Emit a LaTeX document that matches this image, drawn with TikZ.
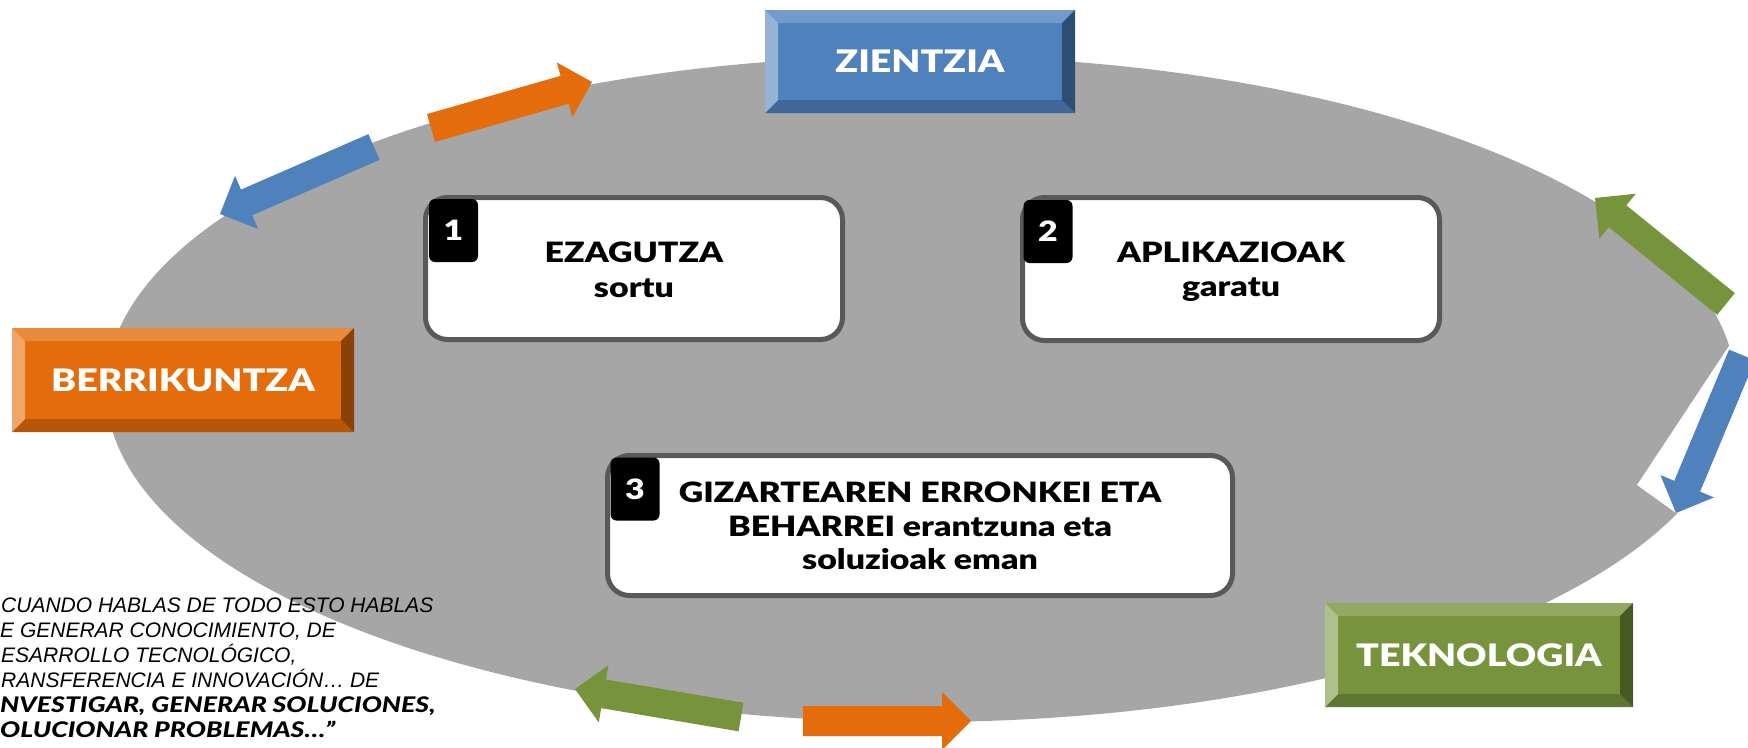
\documentclass[tikz,border=0pt]{standalone}
\usepackage{fontspec}
\setmainfont{Liberation Sans}
\newfontfamily\blackfont{Lato Black}[FakeStretch=1.21]
\newfontfamily\blackitfont{Lato Black Italic}[FakeStretch=1.24]
\usetikzlibrary{calc}
\definecolor{ellgray}{HTML}{A6A6A6}
\definecolor{boxgray}{HTML}{595959}
\definecolor{arrblue}{HTML}{4F81BD}
\definecolor{arrorange}{HTML}{E46C0A}
\definecolor{arrgreen}{HTML}{77933C}
% bevel colours
\definecolor{blumain}{HTML}{4F81BD}
\definecolor{blutop}{HTML}{729ACD}
\definecolor{bluleft}{HTML}{95B3D7}
\definecolor{blubot}{HTML}{3F6797}
\definecolor{bluright}{HTML}{2D4D72}
\definecolor{ormain}{HTML}{E46C0A}
\definecolor{ortop}{HTML}{E98A3C}
\definecolor{orleft}{HTML}{F0A66A}
\definecolor{orbot}{HTML}{B85608}
\definecolor{orright}{HTML}{8A4106}
\definecolor{grmain}{HTML}{77933C}
\definecolor{grtop}{HTML}{93A962}
\definecolor{grleft}{HTML}{AEC08B}
\definecolor{grbot}{HTML}{5F7630}
\definecolor{grright}{HTML}{485A24}
\tikzset{
  bevlabel/.style={font=\blackfont\fontsize{31}{31}\selectfont, text=white, inner sep=0pt},
  whitebox/.style={draw=boxgray, line width=5pt, fill=white, rounded corners=22pt, inner sep=0pt},
  numtab/.style={fill=black, rounded corners=6pt, minimum width=49pt, minimum height=63pt, inner sep=0pt,
    text=white, font=\blackfont\fontsize{28}{28}\selectfont},
  boxtext/.style={font=\blackfont\fontsize{28}{28}\selectfont, anchor=base, inner sep=0pt},
  quoteline/.style={font=\itshape\fontsize{21}{21}\selectfont, anchor=base west, inner sep=0pt},
  quotebold/.style={font=\blackitfont\fontsize{21.5}{21.5}\selectfont, anchor=base west, inner sep=0pt},
}
% block arrow: colour, tail, tip, half shaft, half head, head length
\newcommand\blockarr[6]{%
  \coordinate (ba-h) at ($(#3)!#6!(#2)$);
  \fill[#1] ($(#2)!#4!90:(#3)$) -- ($(ba-h)!#4!90:(#3)$) -- ($(ba-h)!#5!90:(#3)$) -- (#3)
    -- ($(ba-h)!#5!-90:(#3)$) -- ($(ba-h)!#4!-90:(#3)$) -- ($(#2)!#4!-90:(#3)$) -- cycle;}
% bevel box: name, x1, y1, x2, y2, colour prefix, text
\newcommand\bevelbox[7]{%
  \fill[#6main] (#2,#3) rectangle (#4,#5);
  \fill[#6top] (#2,#3) -- (#4,#3) -- (#4-13,#3+13) -- (#2+13,#3+13) -- cycle;
  \fill[#6bot] (#2,#5) -- (#4,#5) -- (#4-13,#5-13) -- (#2+13,#5-13) -- cycle;
  \fill[#6left] (#2,#3) -- (#2+13,#3+13) -- (#2+13,#5-13) -- (#2,#5) -- cycle;
  \fill[#6right] (#4,#3) -- (#4-13,#3+13) -- (#4-13,#5-13) -- (#4,#5) -- cycle;
  \node[bevlabel] (#1) at ({(#2+#4)/2},{(#3+#5)/2}) {#7};}
\begin{document}
\begin{tikzpicture}[x=1pt,y=-1pt]
\useasboundingbox (0,0) rectangle (1748,747);
\fill[white] (0,0) rectangle (1748,747);
\clip (0,0) rectangle (1748,747);
% grey ellipse
\fill[ellgray] (921,389) ellipse [x radius=815, y radius=333];
\fill[white] (1731,343) -- (1637,485) -- (1676,513) -- (1760,513) -- (1760,343) -- cycle;
% arrows
\coordinate (a1t) at (374,147); \coordinate (a1p) at (220,214);
\coordinate (a2t) at (431,128); \coordinate (a2p) at (592,82);
\coordinate (a3t) at (1726,304); \coordinate (a3p) at (1595,198);
\coordinate (a4t) at (1742,355); \coordinate (a4p) at (1676,513);
\coordinate (a5t) at (741,717); \coordinate (a5p) at (575,689);
\coordinate (a6t) at (803,721); \coordinate (a6p) at (971,721);
\blockarr{arrblue}{a1t}{a1p}{14pt}{29pt}{29pt}
\blockarr{arrorange}{a2t}{a2p}{14.5pt}{28.5pt}{28.5pt}
\blockarr{arrgreen}{a3t}{a3p}{14pt}{29pt}{29pt}
\blockarr{arrblue}{a4t}{a4p}{14pt}{29pt}{29pt}
\blockarr{arrgreen}{a5t}{a5p}{14.5pt}{29pt}{29pt}
\blockarr{arrorange}{a6t}{a6p}{15pt}{29pt}{29pt}
% bevel boxes
\bevelbox{zientzia}{765}{10}{1075}{113}{blu}{ZIENTZIA}
\bevelbox{berrikuntza}{12}{328}{354}{432}{or}{BERRIKUNTZA}
\bevelbox{teknologia}{1325}{603}{1633}{707}{gr}{TEKNOLOGIA}
% white boxes
\node[whitebox, minimum width=417pt, minimum height=142pt] (b1) at (634,268.5) {};
\node[whitebox, minimum width=417pt, minimum height=143pt] (b2) at (1231,269) {};
\node[whitebox, minimum width=625pt, minimum height=140pt] (b3) at (920,525.5) {};
\node[numtab] (n1) at (453.5,230.5) {1};
\node[numtab] (n2) at (1048,231.5) {2};
\node[numtab] (n3) at (635,489) {3};
\node[boxtext] (t1a) at (634,262) {EZAGUTZA};
\node[boxtext] (t1b) at (634,297) {sortu};
\node[boxtext] (t2a) at (1231,262) {APLIKAZIOAK};
\node[boxtext] (t2b) at (1231,296) {garatu};
\node[boxtext] (t3a) at (920,502) {GIZARTEAREN ERRONKEI ETA};
\node[boxtext] (t3b) at (920,536) {BEHARREI erantzuna eta};
\node[boxtext] (t3c) at (920,569) {soluzioak eman};
% quote
\node[quoteline] (q1) at (1,612) {CUANDO HABLAS DE TODO ESTO HABLAS};
\node[quoteline] (q2) at (0,637) {E GENERAR CONOCIMIENTO, DE};
\node[quoteline] (q3) at (1,662) {ESARROLLO TECNOLÓGICO,};
\node[quoteline] (q4) at (1,687) {RANSFERENCIA E INNOVACIÓN… DE};
\node[quotebold] (q5) at (0,712) {NVESTIGAR, GENERAR SOLUCIONES,};
\node[quotebold] (q6) at (0,737) {OLUCIONAR PROBLEMAS…”};
\end{tikzpicture}
\end{document}
